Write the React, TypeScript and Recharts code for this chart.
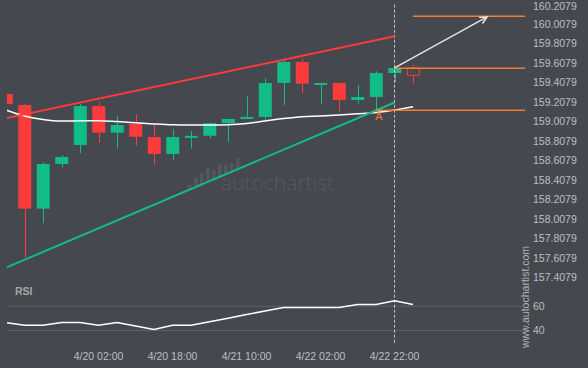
import React from "react";
import {
  Bar,
  ComposedChart,
  Line,
  ReferenceDot,
  ReferenceLine,
  XAxis,
  YAxis,
} from "recharts";

// 4h candles, index 0 = first (partly cut off) candle on the left
const opens = [
  159.291, 159.178, 158.113, 158.572, 158.767, 159.167, 158.893, 158.983, 158.849, 158.675, 158.857, 158.862,
  158.993, 159.037, 159.055, 159.404, 159.619, 159.399, 159.404, 159.229, 159.26, 159.506, 159.558,
];
const highs = [
  159.291, 159.188, 158.589, 158.664, 159.188, 159.212, 159.065, 159.082, 158.98, 158.931, 158.911, 159.0,
  159.036, 159.267, 159.452, 159.64, 159.647, 159.405, 159.405, 159.383, 159.524, 159.558, 159.589,
];
const lows = [
  159.188, 157.603, 157.963, 158.538, 158.682, 158.791, 158.733, 158.76, 158.562, 158.606, 158.729, 158.836,
  158.795, 159.031, 159.017, 159.175, 159.298, 159.188, 159.109, 159.191, 159.134, 159.411, 159.401,
];
const closes = [
  159.188, 158.113, 158.572, 158.644, 159.167, 158.893, 158.972, 158.852, 158.675, 158.849, 158.861, 158.99,
  159.034, 159.055, 159.404, 159.619, 159.397, 159.404, 159.229, 159.26, 159.506, 159.558, 159.483,
];
const maValues = [
  159.126, 159.065, 159.029, 159.013, 159.016, 159.017, 159.008, 158.996, 158.983, 158.974, 158.972, 158.972,
  158.975, 158.988, 159.013, 159.039, 159.058, 159.065, 159.075, 159.087, 159.101, 159.126, 159.16,
];
const rsiValues = [
  46.6, 44.4, 44.4, 46.6, 46.6, 44.4, 46.6, 43.7, 40.8, 44.4, 44.4, 47.3, 50.2, 53.2, 56.0, 58.9, 58.9, 58.9,
  58.9, 61.4, 61.4, 64.4, 61.4,
];

const priceTicks = [
  157.4079, 157.6079, 157.8079, 158.0079, 158.2079, 158.4079, 158.6079, 158.8079, 159.0079, 159.2079, 159.4079,
  159.6079, 159.8079, 160.0079, 160.2079,
];
const rsiTicks = [40, 60];
const timeTickIndex = [5, 9, 13, 17, 21];
const timeTickLabels = ["4/20 02:00", "4/20 18:00", "4/21 10:00", "4/22 02:00", "4/22 22:00"];

// pattern drawing
const resistance = [
  { x: 0, y: 159.042 },
  { x: 21, y: 159.883 },
];
const support = [
  { x: 0, y: 157.507 },
  { x: 21, y: 159.203 },
];
const forecastArrow = [
  { x: 21, y: 159.558 },
  { x: 26, y: 160.082 },
];
const levels = [
  { from: 22, price: 160.089 },
  { from: 21, price: 159.555 },
  { from: 20, price: 159.123 },
];
const pointA = { x: 20.16, y: 159.123, label: "A" };
const lastBarIndex = 21;

const X_DOMAIN: [number, number] = [0.054, 28.05];
const PRICE_DOMAIN: [number, number] = [157.298, 160.2562];
const RSI_DOMAIN: [number, number] = [30, 75];

const BG = "#45484e";
const UP = "#12bc86";
const DOWN = "#fc3b3b";
const ORANGE = "#f47d31";
const TEXT = "#bdbfc2";
const GRID = "#5d6167";

const candles = opens.map((open, i) => ({
  i,
  open,
  high: highs[i],
  low: lows[i],
  close: closes[i],
  ma: maValues[i],
  rsi: rsiValues[i],
  live: i === opens.length - 1,
}));

const Candle = (props: any) => {
  const { x, y, width, height, payload } = props;
  if (x == null || y == null) return null;
  const { open, close, high, low, live } = payload;
  const top = Math.min(y, y + height);
  const span = Math.abs(height);
  const per = span / (high - low || 1);
  const toY = (p: number) => top + (high - p) * per;
  const color = close >= open && !live ? UP : DOWN;
  const bTop = toY(Math.max(open, close));
  const bH = Math.max(toY(Math.min(open, close)) - bTop, 2);
  const cx = Math.round(x + width / 2) + 0.5;
  return (
    <g>
      <line x1={cx} x2={cx} y1={top} y2={top + span} stroke={color} strokeWidth={1} />
      {live ? (
        <rect x={x + 0.5} y={bTop} width={width - 1} height={bH} fill={BG} stroke={color} strokeWidth={1} />
      ) : (
        <rect x={x} y={bTop} width={width} height={bH} fill={color} />
      )}
    </g>
  );
};

// price labels; the topmost sits right at the edge, nudge it so it stays whole
const PriceTick = (props: any) => {
  const { x, y, payload } = props;
  return (
    <text x={x} y={Math.max(y, 6)} dy="0.355em" fill={TEXT} fontSize={10.5} textAnchor="start">
      {Number(payload.value).toFixed(4)}
    </text>
  );
};

const Arrow = (props: any) => {
  const { x1, y1, x2, y2 } = props;
  const a = Math.atan2(y2 - y1, x2 - x1);
  const len = 8;
  const p1 = [x2 - len * Math.cos(a - 0.45), y2 - len * Math.sin(a - 0.45)];
  const p2 = [x2 - len * Math.cos(a + 0.45), y2 - len * Math.sin(a + 0.45)];
  return (
    <g stroke="#e6e6e6" strokeWidth={1.4} fill="none">
      <line x1={x1} y1={y1} x2={x2} y2={y2} />
      <polyline points={`${p1[0]},${p1[1]} ${x2},${y2} ${p2[0]},${p2[1]}`} />
    </g>
  );
};

const iconBars = [
  [188, 185, 189], [194, 178, 186], [200, 173, 184], [206, 167, 181], [212, 170, 179],
  [218, 164, 176], [224, 165, 174], [230, 163, 171], [236, 158, 169],
];

export default function App() {
  return (
    <div
      style={{
        position: "absolute",
        left: 0,
        top: 0,
        width: 588,
        height: 368,
        background: BG,
        fontFamily: "'Liberation Sans', Arial, sans-serif",
        overflow: "hidden",
      }}
    >
      <svg width={588} height={368} style={{ position: "absolute", left: 0, top: 0 }}>
        {iconBars.map(([x, t, b]) => (
          <rect key={x} x={x} y={t} width={3.5} height={b - t} fill="#54585e" />
        ))}
        <text x={221} y={190} fontFamily="'Open Sans', sans-serif" fontSize={21} fontWeight={300} fill="#575b61">
          autochartist
        </text>
        <text x={15} y={295} fontSize={10.5} fontWeight="bold" fill="#a3a6ab">
          RSI
        </text>
        <text
          x={525}
          y={297}
          fontSize={10.5}
          fill="#b0b3b7"
          textAnchor="middle"
          dominantBaseline="central"
          transform="rotate(-90, 525, 297)"
        >
          www.autochartist.com
        </text>
      </svg>

      <div style={{ position: "absolute", left: 0, top: 0 }}>
        <ComposedChart width={588} height={288} data={candles} margin={{ top: 0, right: 0, bottom: 0, left: 7 }}>
          <XAxis dataKey="i" type="number" domain={X_DOMAIN} allowDataOverflow hide />
          <YAxis
            orientation="right"
            type="number"
            domain={PRICE_DOMAIN}
            allowDataOverflow
            ticks={priceTicks}
            interval={0}
            width={63}
            axisLine={false}
            tickLine={false}
            tick={<PriceTick />}
          />
          <ReferenceLine
            segment={[
              { x: lastBarIndex, y: priceTicks[priceTicks.length - 1] },
              { x: lastBarIndex, y: PRICE_DOMAIN[0] },
            ]}
            stroke="#c9c9c9"
            strokeDasharray="3 2"
            ifOverflow="visible"
          />
          <Bar dataKey={(d: any) => [d.low, d.high]} barSize={13} shape={<Candle />} isAnimationActive={false} />
          <Line dataKey="ma" type="monotone" stroke="#ffffff" strokeWidth={1.5} dot={false} isAnimationActive={false} />
          <ReferenceLine segment={resistance} stroke={DOWN} strokeWidth={2} ifOverflow="hidden" />
          <ReferenceLine segment={support} stroke={UP} strokeWidth={2} ifOverflow="hidden" />
          {levels.map((l) => (
            <ReferenceLine
              key={l.price}
              segment={[
                { x: l.from, y: l.price },
                { x: X_DOMAIN[1], y: l.price },
              ]}
              stroke={ORANGE}
              strokeWidth={1.5}
              ifOverflow="visible"
            />
          ))}
          <ReferenceLine segment={forecastArrow} shape={<Arrow />} ifOverflow="visible" />
          <ReferenceDot
            x={pointA.x}
            y={pointA.y}
            r={0}
            ifOverflow="visible"
            label={{ value: pointA.label, position: "bottom", offset: 2, fill: ORANGE, fontSize: 11 }}
          />
        </ComposedChart>
      </div>

      <div style={{ position: "absolute", left: 0, top: 288 }}>
        <ComposedChart width={588} height={80} data={candles} margin={{ top: 0, right: 0, bottom: 0, left: 7 }}>
          <XAxis
            dataKey="i"
            type="number"
            domain={X_DOMAIN}
            allowDataOverflow
            ticks={timeTickIndex}
            interval={0}
            tickFormatter={(v) => timeTickLabels[timeTickIndex.indexOf(v)] ?? ""}
            height={25.3}
            axisLine={false}
            tickLine={false}
            tickMargin={4}
            tick={{ fill: TEXT, fontSize: 10.5 }}
          />
          <YAxis
            orientation="right"
            type="number"
            domain={RSI_DOMAIN}
            allowDataOverflow
            ticks={rsiTicks}
            interval={0}
            width={63}
            axisLine={false}
            tickLine={false}
            tick={{ fill: TEXT, fontSize: 10.5 }}
          />
          <ReferenceLine y={rsiTicks[1]} stroke={GRID} />
          <ReferenceLine y={rsiTicks[0]} stroke={GRID} />
          <ReferenceLine x={lastBarIndex} stroke="#c9c9c9" strokeDasharray="3 2" />
          <Line dataKey="rsi" type="linear" stroke="#ffffff" strokeWidth={1.5} dot={false} isAnimationActive={false} />
        </ComposedChart>
      </div>
    </div>
  );
}
